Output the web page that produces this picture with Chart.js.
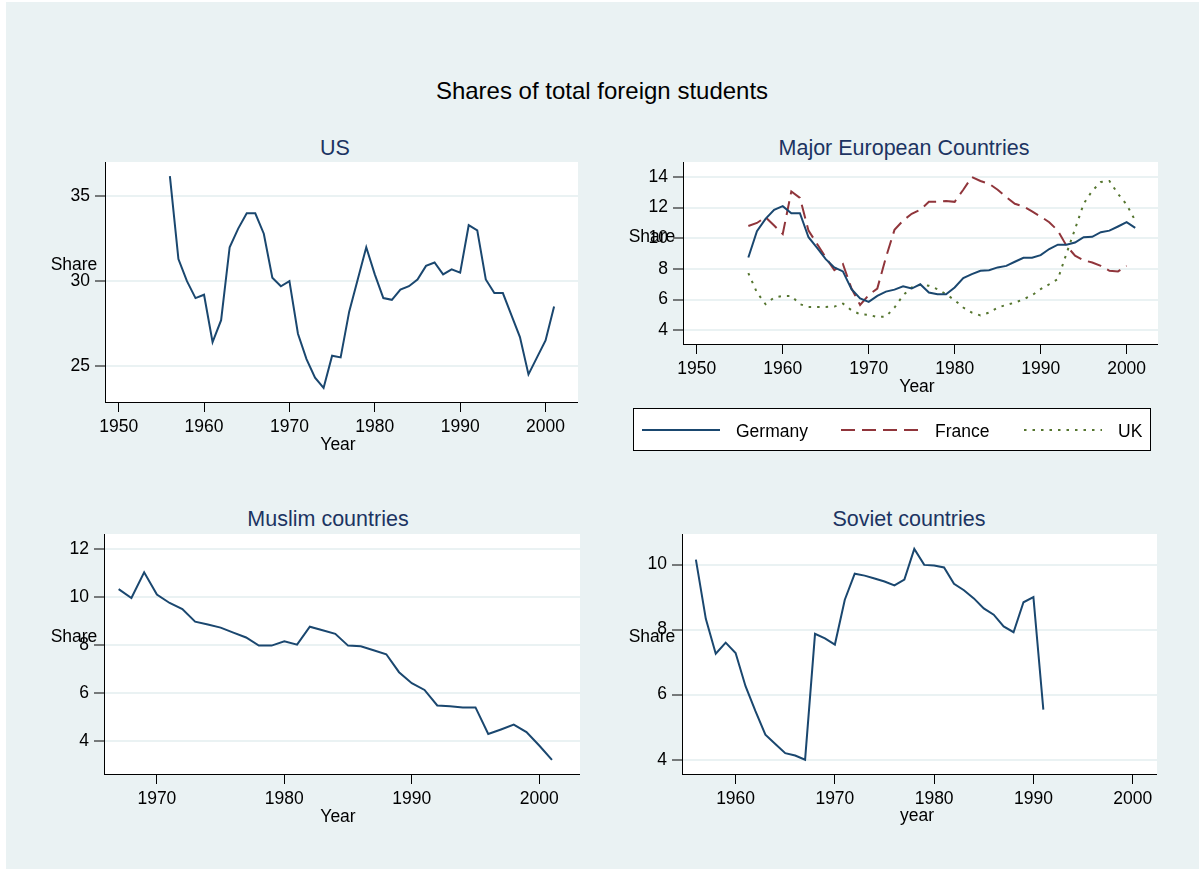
<!DOCTYPE html>
<html>
<head>
<meta charset="utf-8">
<script src="https://cdn.jsdelivr.net/npm/chart.js@4.4.1/dist/chart.umd.min.js"></script>
<style>
    html, body { margin: 0; padding: 0; background: #fff; }
    #page { position: absolute; left: 6px; top: 2px; width: 1193px; height: 867px; background: #eaf2f3; }
    .txt { position: absolute; font-family: "Liberation Sans", Arial, sans-serif; line-height: 1;
           white-space: nowrap; transform: translate(-50%, -50%); color: #000; }
    .main { font-size: 24px; }
    .sub { font-size: 21.5px; color: #1c3462; }
    .lab { font-size: 17.5px; }
    canvas { position: absolute; }
</style>
</head>
<body>
<div id="page"></div>

<div class="txt main" style="left:602px; top:91px">Shares of total foreign students</div>

<div class="txt sub" style="left:335px; top:149px">US</div>
<div class="txt sub" style="left:904px; top:149px">Major European Countries</div>
<div class="txt sub" style="left:328px; top:520px">Muslim countries</div>
<div class="txt sub" style="left:909px; top:520px">Soviet countries</div>

<canvas id="us" width="533" height="280" style="left:45px; top:162px"></canvas>
<canvas id="eu" width="535" height="293" style="left:623px; top:162px"></canvas>
<canvas id="muslim" width="536" height="280" style="left:44px; top:534px"></canvas>
<canvas id="soviet" width="535" height="280" style="left:622px; top:534px"></canvas>

<div class="txt lab" style="left:74px; top:265px">Share</div>
<div class="txt lab" style="left:652px; top:237px">Share</div>
<div class="txt lab" style="left:74px; top:637px">Share</div>
<div class="txt lab" style="left:652px; top:637px">Share</div>

<div class="txt lab" style="left:338px; top:445px">Year</div>
<div class="txt lab" style="left:917px; top:387px">Year</div>
<div class="txt lab" style="left:338px; top:817px">Year</div>
<div class="txt lab" style="left:917px; top:816px">year</div>

<script>
// ---- data ----
var usYears = [1956, 1957, 1958, 1959, 1960, 1961, 1962, 1963, 1964, 1965,
    1966, 1967, 1968, 1969, 1970, 1971, 1972, 1973, 1974, 1975,
    1976, 1977, 1978, 1979, 1980, 1981, 1982, 1983, 1984, 1985,
    1986, 1987, 1988, 1989, 1990, 1991, 1992, 1993, 1994, 1995,
    1996, 1997, 1998, 1999, 2000, 2001];
var usShare = [36.2, 31.3, 30.0, 29.0, 29.2, 26.4, 27.7, 32.0, 33.1, 34.0,
    34.0, 32.8, 30.2, 29.7, 30.0, 26.9, 25.4, 24.3, 23.7, 25.6,
    25.5, 28.2, 30.1, 32.0, 30.4, 29.0, 28.9, 29.5, 29.7, 30.1,
    30.9, 31.1, 30.4, 30.7, 30.5, 33.3, 33.0, 30.1, 29.3, 29.3,
    28.0, 26.7, 24.5, 25.5, 26.5, 28.5];

var euYears = usYears;
var germany = [8.75, 10.46, 11.27, 11.86, 12.1, 11.64, 11.64, 10.07, 9.37, 8.64,
    8.1, 7.84, 6.68, 6.07, 5.85, 6.24, 6.52, 6.65, 6.87, 6.72,
    7.0, 6.46, 6.35, 6.35, 6.79, 7.4, 7.66, 7.88, 7.92, 8.1,
    8.2, 8.47, 8.73, 8.73, 8.9, 9.3, 9.58, 9.58, 9.72, 10.07,
    10.1, 10.4, 10.5, 10.77, 11.05, 10.68];
var france = [10.8, 11.0, 11.38, 10.83, 10.28, 13.06, 12.64, 10.5, 9.63, 8.75,
    7.92, 8.32, 6.72, 5.65, 6.3, 6.72, 8.75, 10.55, 11.16, 11.6,
    11.86, 12.38, 12.38, 12.43, 12.38, 13.17, 14.0, 13.74, 13.56, 13.17,
    12.69, 12.25, 12.08, 11.75, 11.42, 11.05, 10.5, 9.52, 8.86, 8.57,
    8.42, 8.2, 7.88, 7.84, 8.2, null];
var uk = [7.73, 6.46, 5.7, 6.13, 6.24, 6.24, 5.7, 5.52, 5.52, 5.52,
    5.54, 5.74, 5.3, 5.04, 5.0, 4.86, 4.89, 5.48, 6.28, 6.79,
    6.96, 6.9, 6.68, 6.35, 5.96, 5.48, 5.15, 4.97, 5.15, 5.48,
    5.65, 5.8, 6.02, 6.28, 6.68, 7.0, 7.33, 9.0, 10.6, 12.25,
    13.1, 13.67, 13.74, 12.9, 12.2, 11.16];

var muslimYears = [1967, 1968, 1969, 1970, 1971, 1972, 1973, 1974, 1975, 1976,
    1977, 1978, 1979, 1980, 1981, 1982, 1983, 1984, 1985, 1986,
    1987, 1988, 1989, 1990, 1991, 1992, 1993, 1994, 1995, 1996,
    1997, 1998, 1999, 2000, 2001];
var muslimShare = [10.33, 9.96, 11.03, 10.1, 9.75, 9.5, 8.97, 8.85, 8.72, 8.51,
    8.31, 7.97, 7.97, 8.15, 8.01, 8.76, 8.61, 8.46, 7.97, 7.94,
    7.78, 7.61, 6.86, 6.4, 6.12, 5.47, 5.44, 5.39, 5.39, 4.28,
    4.47, 4.67, 4.36, 3.8, 3.2];

var sovietYears = [1956, 1957, 1958, 1959, 1960, 1961, 1962, 1963, 1964, 1965,
    1966, 1967, 1968, 1969, 1970, 1971, 1972, 1973, 1974, 1975,
    1976, 1977, 1978, 1979, 1980, 1981, 1982, 1983, 1984, 1985,
    1986, 1987, 1988, 1989, 1990, 1991];
var sovietShare = [10.15, 8.33, 7.26, 7.6, 7.28, 6.26, 5.49, 4.77, 4.48, 4.2,
    4.13, 4.0, 7.87, 7.73, 7.54, 8.92, 9.72, 9.66, 9.57, 9.48,
    9.36, 9.54, 10.48, 9.99, 9.97, 9.91, 9.41, 9.21, 8.96, 8.65,
    8.46, 8.1, 7.92, 8.84, 9.0, 5.54];

var yearTicks = [1950, 1960, 1970, 1980, 1990, 2000];
var muslimYearTicks = [1970, 1980, 1990, 2000];
var sovietYearTicks = [1960, 1970, 1980, 1990, 2000];
var usTicks = [25, 30, 35];
var euTicks = [4, 6, 8, 10, 12, 14];
var muslimTicks = [4, 6, 8, 10, 12];
var sovietTicks = [4, 6, 8, 10];

// ---- look ----
var NAVY = '#1a476f', MAROON = '#90353b', GREEN = '#55752f';
var FONT = { family: '"Liberation Sans", Arial, sans-serif', size: 17.5 };

function pts(xs, ys) {
    return xs.map(function (x, i) { return { x: x, y: ys[i] }; });
}

var plotBg = {
    id: 'plotBg',
    beforeDraw: function (chart) {
        var a = chart.chartArea, ctx = chart.ctx;
        ctx.save();
        ctx.fillStyle = '#fff';
        ctx.fillRect(a.left, a.top, a.right - a.left, a.bottom - a.top);
        ctx.restore();
    }
};

// stata style legend box drawn under the european panel
var boxLegend = {
    id: 'boxLegend',
    afterDraw: function (chart, args, o) {
        if (!o || !o.box) return;
        var ctx = chart.ctx;
        var ox = chart.canvas.offsetLeft, oy = chart.canvas.offsetTop;
        ctx.save();
        ctx.fillStyle = '#fff';
        ctx.fillRect(o.box[0] - ox, o.box[1] - oy, o.box[2] - o.box[0], o.box[3] - o.box[1]);
        ctx.strokeStyle = '#000';
        ctx.lineWidth = 1;
        ctx.strokeRect(o.box[0] - ox, o.box[1] - oy, o.box[2] - o.box[0], o.box[3] - o.box[1]);
        chart.data.datasets.forEach(function (ds, i) {
            var y = o.y - oy;
            ctx.beginPath();
            ctx.setLineDash(ds.borderDash || []);
            ctx.strokeStyle = ds.borderColor;
            ctx.lineWidth = ds.borderWidth;
            ctx.moveTo(o.keys[i] - ox, y);
            ctx.lineTo(o.keys[i] + o.keyW - ox, y);
            ctx.stroke();
            ctx.setLineDash([]);
            ctx.fillStyle = '#000';
            ctx.font = FONT.size + 'px ' + FONT.family;
            ctx.textBaseline = 'alphabetic';
            ctx.fillText(ds.label, o.labels[i] - ox, y + 0.358 * FONT.size + 1);
        });
        ctx.restore();
    }
};

function makeChart(id, datasets, xr, xTicks, yr, yTicks, padBottom, legend) {
    var ctx = document.getElementById(id).getContext('2d');
    return new Chart(ctx, {
        type: 'line',
        data: { datasets: datasets },
        plugins: [plotBg, boxLegend],
        options: {
            responsive: false,
            animation: false,
            devicePixelRatio: 1,
            layout: { padding: { left: 0, right: 0, top: 0, bottom: padBottom || 0 }, autoPadding: false },
            elements: { point: { radius: 0 }, line: { tension: 0, borderWidth: 2 } },
            plugins: {
                legend: { display: false },
                tooltip: { enabled: false },
                boxLegend: legend || {}
            },
            scales: {
                x: {
                    type: 'linear',
                    min: xr[0], max: xr[1],
                    afterFit: function (s) { s.height = 40; s.paddingLeft = 0; s.paddingRight = 0; },
                    afterBuildTicks: function (s) { s.ticks = xTicks.map(function (v) { return { value: v }; }); },
                    ticks: { font: FONT, color: '#000', padding: 5, maxRotation: 0, autoSkip: false,
                             callback: function (v) { return String(v); } },
                    grid: { drawOnChartArea: false, drawTicks: true, tickLength: 10, tickColor: '#000', tickWidth: 1 },
                    border: { display: true, color: '#000', width: 1 }
                },
                y: {
                    type: 'linear',
                    min: yr[0], max: yr[1],
                    afterFit: function (s) { s.width = 60; s.paddingTop = 0; s.paddingBottom = 0; },
                    afterBuildTicks: function (s) { s.ticks = yTicks.map(function (v) { return { value: v }; }); },
                    ticks: { font: FONT, color: '#000', padding: 5, autoSkip: false,
                             callback: function (v) { return String(v); } },
                    grid: { color: '#eaf2f3', lineWidth: 2, drawTicks: true, tickLength: 10,
                            tickColor: '#000', tickWidth: 1 },
                    border: { display: true, color: '#000', width: 1 }
                }
            }
        }
    });
}

makeChart('us', [
    { label: 'US', data: pts(usYears, usShare), borderColor: NAVY, borderWidth: 2 }
], [1948.4, 2003.8], yearTicks, [22.87, 37.03], usTicks);

makeChart('eu', [
    { label: 'Germany', data: pts(euYears, germany), borderColor: NAVY, borderWidth: 2 },
    { label: 'France', data: pts(euYears, france), borderColor: MAROON, borderWidth: 2, borderDash: [14, 7] },
    { label: 'UK', data: pts(euYears, uk), borderColor: GREEN, borderWidth: 2, borderDash: [2.5, 6] }
], [1948.4, 2003.65], yearTicks, [3.1, 14.98], euTicks, 71, {
    box: [633.5, 408.5, 1150.5, 450.5],
    keys: [642, 841, 1024], keyW: 78,
    labels: [736, 935, 1118],
    y: 430
});

makeChart('muslim', [
    { label: 'Muslim countries', data: pts(muslimYears, muslimShare), borderColor: NAVY, borderWidth: 2 }
], [1965.85, 2003.2], muslimYearTicks, [2.61, 12.63], muslimTicks);

makeChart('soviet', [
    { label: 'Soviet countries', data: pts(sovietYears, sovietShare), borderColor: NAVY, borderWidth: 2 }
], [1954.6, 2002.45], sovietYearTicks, [3.56, 10.94], sovietTicks);
</script>
</body>
</html>
